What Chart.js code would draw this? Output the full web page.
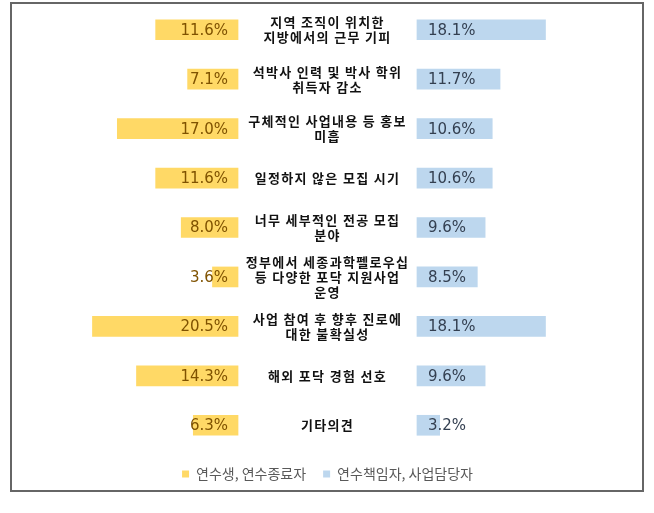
<!DOCTYPE html>
<html>
<head>
<meta charset="utf-8">
<script src="https://cdn.jsdelivr.net/npm/chart.js@4.4.1/dist/chart.umd.min.js"></script>
<style>
    html, body { margin: 0; padding: 0; background: #fff; }
    #wrap { position: relative; width: 654px; height: 513px; }
    #frame {
        position: absolute; left: 10px; top: 2px; width: 634px; height: 490px;
        box-sizing: border-box; border: 2px solid #666; pointer-events: none;
    }
</style>
</head>
<body>
<div id="wrap">
    <canvas id="chart" width="654" height="513"></canvas>
    <div id="frame"></div>
</div>
<script>
// Categories (center labels), one line per array entry
const categories = [
    ['지역 조직이 위치한', '지방에서의 근무 기피'],
    ['석박사 인력 및 박사 학위', '취득자 감소'],
    ['구체적인 사업내용 등 홍보', '미흡'],
    ['일정하지 않은 모집 시기'],
    ['너무 세부적인 전공 모집', '분야'],
    ['정부에서 세종과학펠로우십', '등 다양한 포닥 지원사업', '운영'],
    ['사업 참여 후 향후 진로에', '대한 불확실성'],
    ['해외 포닥 경험 선호'],
    ['기타의견']
];

const seriesNames = ['연수생, 연수종료자', '연수책임자, 사업담당자'];
const trainees = [11.6, 7.1, 17.0, 11.6, 8.0, 3.6, 20.5, 14.3, 6.3];
const managers = [18.1, 11.7, 10.6, 10.6, 9.6, 8.5, 18.1, 9.6, 3.2];

// value labels at the inner end of each bar + category text in the middle gap
const butterflyLabels = {
    id: 'butterflyLabels',
    afterDatasetsDraw(chart) {
        const ctx = chart.ctx;
        ctx.save();
        ctx.font = '15px "DejaVu Sans", sans-serif';
        ctx.textBaseline = 'middle';

        chart.getDatasetMeta(0).data.forEach((bar, i) => {
            ctx.fillStyle = '#7F5200';
            ctx.textAlign = 'right';
            ctx.fillText(trainees[i].toFixed(1) + '%', bar.base - 10, bar.y + 1);
        });
        chart.getDatasetMeta(1).data.forEach((bar, i) => {
            ctx.fillStyle = '#333F50';
            ctx.textAlign = 'left';
            ctx.fillText(managers[i].toFixed(1) + '%', bar.base + 11, bar.y + 1);
        });

        // category labels between the two bar groups
        const left = chart.getDatasetMeta(0).data[0].base;
        const right = chart.getDatasetMeta(1).data[0].base;
        const cx = (left + right) / 2;
        const yScale = chart.scales.y;
        ctx.font = 'bold 13px "Noto Sans CJK KR", sans-serif';
        ctx.letterSpacing = '1.3px';
        ctx.fillStyle = '#111';
        ctx.textAlign = 'center';
        const lh = 15;
        chart.data.labels.forEach((lines, i) => {
            const y = yScale.getPixelForTick(i);
            const y0 = y - (lines.length - 1) * lh / 2;
            lines.forEach((t, k) => ctx.fillText(t, cx, y0 + k * lh));
        });
        ctx.restore();
    }
};

new Chart(document.getElementById('chart'), {
    type: 'bar',
    data: {
        labels: categories,
        datasets: [{
            label: seriesNames[0],
            data: trainees,
            backgroundColor: '#FFD966',
            xAxisID: 'xL',
            grouped: false,
            barThickness: 20
        }, {
            label: seriesNames[1],
            data: managers,
            backgroundColor: '#BDD7EE',
            xAxisID: 'xR',
            grouped: false,
            barThickness: 20
        }]
    },
    options: {
        indexAxis: 'y',
        responsive: false,
        animation: false,
        layout: {
            padding: { left: 25, right: 24, top: 5, bottom: 22 }
        },
        plugins: {
            legend: {
                position: 'bottom',
                labels: {
                    boxWidth: 7,
                    boxHeight: 7,
                    padding: 17,
                    color: '#595959',
                    font: { family: '"Noto Sans CJK KR", sans-serif', size: 14 }
                }
            },
            tooltip: { enabled: false }
        },
        scales: {
            y: {
                display: false,
                grid: { display: false }
            },
            // left half: reversed so 0 sits at the left edge of the label gap
            xL: {
                display: false,
                reverse: true,
                min: -55.2,
                max: 30
            },
            // right half: 0 sits at the right edge of the label gap
            xR: {
                display: false,
                min: -55.2,
                max: 30
            }
        }
    },
    plugins: [butterflyLabels]
});
</script>
</body>
</html>
